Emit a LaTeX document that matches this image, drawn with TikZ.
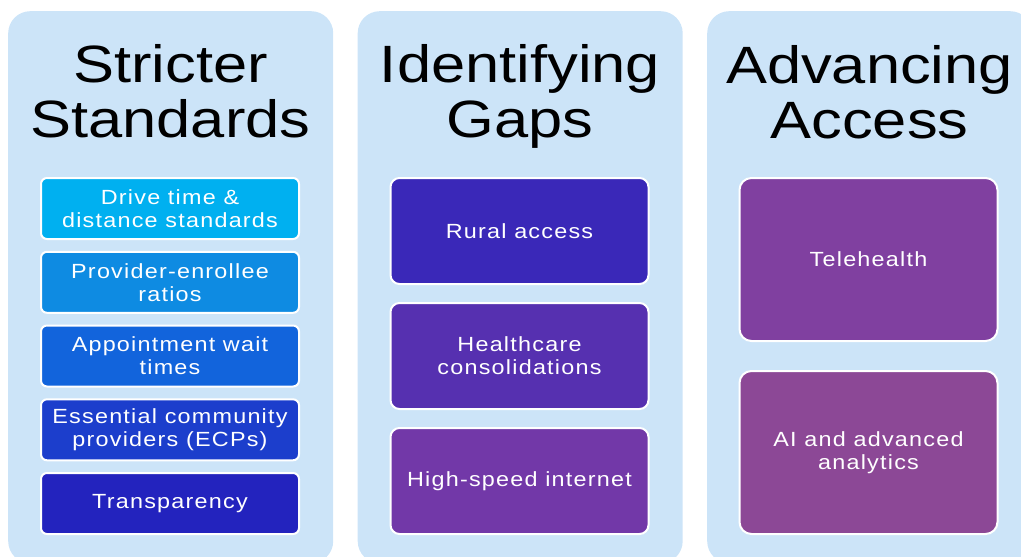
\documentclass[tikz,border=0pt]{standalone}
\usepackage{fontspec}
\setmainfont{Liberation Sans}
\newfontfamily\titlefont{Liberation Sans}[FakeStretch=1.17]
\newfontfamily\itemfont{Liberation Sans}[FakeStretch=1.14,LetterSpace=6]
\definecolor{panelbg}{RGB}{204,228,248}
\definecolor{ca}{RGB}{0,176,240}
\definecolor{cb}{RGB}{14,139,226}
\definecolor{cc}{RGB}{18,100,220}
\definecolor{cd}{RGB}{28,62,204}
\definecolor{ce}{RGB}{35,35,190}
\definecolor{cf}{RGB}{58,40,184}
\definecolor{cg}{RGB}{86,48,176}
\definecolor{ch}{RGB}{114,56,168}
\definecolor{ci}{RGB}{128,64,160}
\definecolor{cj}{RGB}{140,72,150}
\begin{document}
\begin{tikzpicture}[x=1pt,y=-1pt,
  panel/.style={fill=panelbg, draw=none, rounded corners=22pt, minimum width=325pt, minimum height=552pt, anchor=north west, inner sep=0pt},
  title/.style={anchor=north, align=center, inner sep=0pt, font=\titlefont\fontsize{52.5}{55}\selectfont, text=black},
  item/.style={draw=white, line width=2pt, text=white, align=center, inner sep=0pt, minimum width=258pt, font=\itemfont\fontsize{20.5}{23}\selectfont},
  small/.style={item, rounded corners=6pt, minimum height=61pt},
  mid/.style={item, rounded corners=9pt, minimum height=106pt},
  big/.style={item, rounded corners=12pt, minimum height=163pt}]
\useasboundingbox (0,0) rectangle (1021,557);
\node[panel] (p1) at (8,11) {};
\node[panel] (p2) at (357.5,11) {};
\node[panel] (p3) at (707,11) {};
\node[title] (t1) at (170.5,44) {Stricter\\Standards};
\node[title] (t2) at (520,44.5) {Identifying\\Gaps};
\node[title] (t3) at (869.5,45) {Advancing\\Access};
\node[small, fill=ca] (a1) at (170,208.5) {Drive time \&\\distance standards};
\node[small, fill=cb] (a2) at (170,282.3) {Provider-enrollee\\ratios};
\node[small, fill=cc] (a3) at (170,356) {Appointment wait\\times};
\node[small, fill=cd] (a4) at (170,429.8) {Essential community\\providers (ECPs)};
\node[small, fill=ce] (a5) at (170,503.5) {Transparency};
\node[mid, fill=cf] (b1) at (519.5,231) {Rural access};
\node[mid, fill=cg] (b2) at (519.5,356) {Healthcare\\consolidations};
\node[mid, fill=ch] (b3) at (519.5,481) {High-speed internet};
\node[big, fill=ci] (c1) at (868.5,259.5) {Telehealth};
\node[big, fill=cj] (c2) at (868.5,452.5) {AI and advanced\\analytics};
\end{tikzpicture}
\end{document}
